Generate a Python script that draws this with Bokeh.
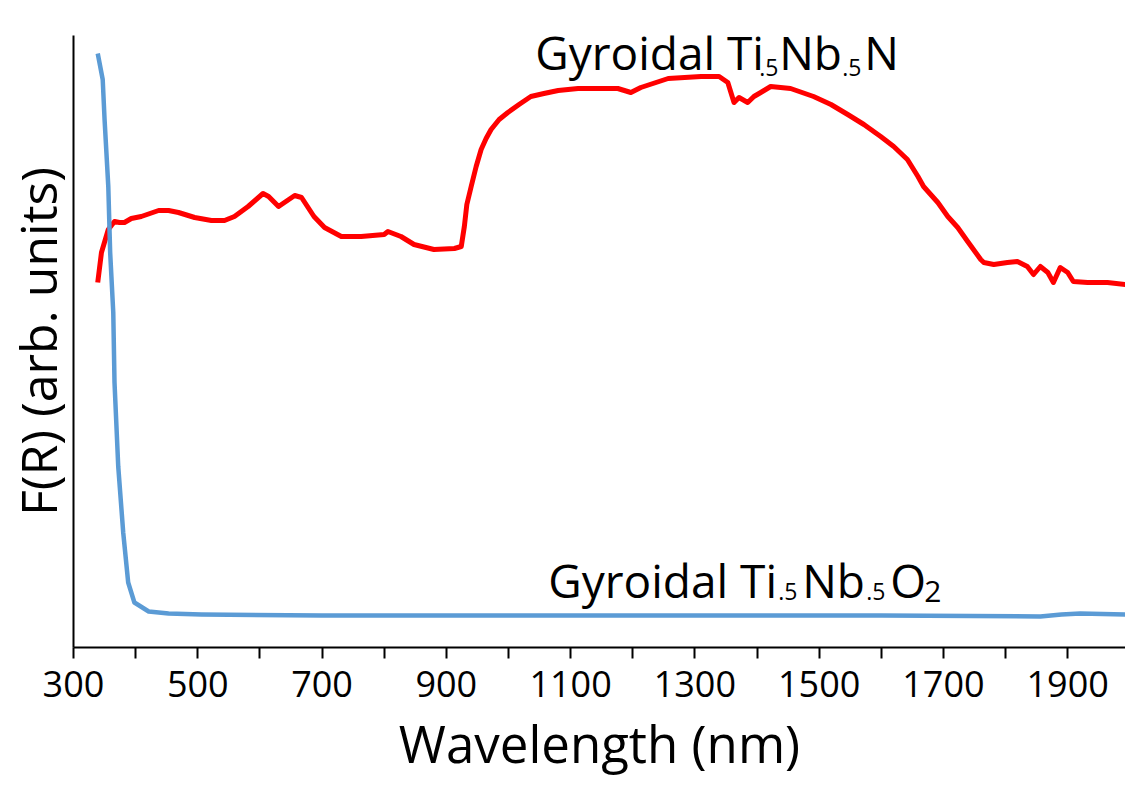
from bokeh.plotting import figure
from bokeh.models import Range1d, FixedTicker, Label
from bokeh.embed import file_html
from bokeh.resources import INLINE

# ---------------- data ----------------
red_wavelength = [339, 345, 356, 366, 374, 382, 393, 409, 437, 453, 469, 495, 522,
                  543, 559, 581, 605, 614, 630, 656, 667, 687, 704, 731, 763, 800,
                  806, 827, 848, 880, 913, 924, 929, 933, 940, 948, 956, 964, 972,
                  985, 999, 1017, 1036, 1057, 1080, 1112, 1150, 1176, 1197, 1213,
                  1257, 1310, 1339, 1353, 1363, 1371, 1385, 1395, 1406, 1422, 1454,
                  1491, 1519, 1546, 1572, 1599, 1620, 1642, 1659, 1668, 1691, 1707,
                  1723, 1739, 1760, 1765, 1781, 1803, 1819, 1835, 1845, 1856, 1868,
                  1877, 1888, 1900, 1909, 1932, 1964, 1993]
red_fr = [3.65, 3.95, 4.18, 4.26, 4.25, 4.25, 4.29, 4.31, 4.37, 4.37, 4.35, 4.30, 4.27,
          4.27, 4.31, 4.41, 4.54, 4.51, 4.41, 4.52, 4.50, 4.31, 4.20, 4.11, 4.11, 4.13,
          4.16, 4.11, 4.03, 3.98, 3.99, 4.01, 4.21, 4.43, 4.61, 4.81, 4.98, 5.09, 5.18,
          5.28, 5.35, 5.43, 5.51, 5.54, 5.57, 5.59, 5.59, 5.59, 5.55, 5.60,
          5.69, 5.71, 5.71, 5.65, 5.45, 5.50, 5.45, 5.51, 5.55, 5.61, 5.59,
          5.51, 5.43, 5.33, 5.23, 5.11, 5.01, 4.88, 4.71, 4.61, 4.45, 4.31,
          4.20, 4.06, 3.88, 3.85, 3.83, 3.85, 3.86, 3.81, 3.73, 3.81, 3.75,
          3.65, 3.80, 3.75, 3.66, 3.65, 3.65, 3.63]

blue_wavelength = [339, 347, 350, 356, 359, 364, 366, 372, 380, 388, 398, 421, 453,
                   506, 700, 1000, 1300, 1600, 1856, 1890, 1920, 1993]
blue_fr = [5.94, 5.68, 5.28, 4.61, 3.95, 3.35, 2.65, 1.81, 1.15, 0.65, 0.45, 0.36, 0.34,
           0.33, 0.32, 0.32, 0.32, 0.32, 0.31, 0.33, 0.34, 0.33]

tick_values = [300, 400, 500, 600, 700, 800, 900, 1000, 1100, 1200, 1300, 1400,
               1500, 1600, 1700, 1800, 1900]
tick_labels = ["300", "", "500", "", "700", "", "900", "", "1100", "", "1300", "",
               "1500", "", "1700", "", "1900"]

x_title = "Wavelength (nm)"
y_title = "F(R) (arb. units)"

# label pieces: (text, x offset px, is_subscript, font size)
nitride_parts = [("Gyroidal Ti", 0, False, "46px"), (".5", 224, True, "23px"),
                 ("Nb", 244, False, "46px"), (".5", 307, True, "23px"),
                 ("N", 329, False, "46px")]
oxide_parts = [("Gyroidal Ti", 0, False, "46px"), (".5", 230, True, "23px"),
               ("Nb", 254, False, "46px"), (".5", 318, True, "23px"),
               ("O", 342, False, "46px"), ("2", 376, True, "30px")]

FONT = "Open Sans"

p = figure(width=1125, height=794, output_backend="svg", toolbar_location=None,
           x_range=Range1d(300, 1993), y_range=Range1d(0, 6.12),
           min_border_left=72, min_border_right=0, min_border_top=35,
           min_border_bottom=147)
p.xgrid.visible = False
p.ygrid.visible = False
p.outline_line_color = None
p.background_fill_color = "white"
p.border_fill_color = "white"

p.line(red_wavelength, red_fr, line_color="#FF0000", line_width=5, line_join="round")
p.line(blue_wavelength, blue_fr, line_color="#5B9BD5", line_width=4.5, line_join="round")

xa = p.xaxis[0]
xa.ticker = FixedTicker(ticks=tick_values, minor_ticks=[])
xa.major_label_overrides = {v: l for v, l in zip(tick_values, tick_labels)}
xa.axis_line_width = 2
xa.axis_line_color = "black"
xa.major_tick_in = 0
xa.major_tick_out = 11
xa.major_tick_line_width = 2
xa.major_tick_line_color = "black"
xa.minor_tick_line_color = None
xa.major_label_text_font = FONT
xa.major_label_text_font_size = "36px"
xa.major_label_text_color = "black"
xa.major_label_standoff = 12
xa.axis_label = x_title
xa.axis_label_text_font = FONT
xa.axis_label_text_font_size = "51px"
xa.axis_label_text_font_style = "normal"
xa.axis_label_text_color = "black"
xa.axis_label_standoff = 8

ya = p.yaxis[0]
ya.ticker = FixedTicker(ticks=[], minor_ticks=[])
ya.axis_line_width = 2
ya.axis_line_color = "black"
ya.major_tick_in = 0
ya.major_tick_out = 0
ya.major_label_standoff = 0
ya.major_tick_line_color = None
ya.minor_tick_line_color = None
ya.axis_label = y_title
ya.axis_label_text_font = FONT
ya.axis_label_text_font_size = "50px"
ya.axis_label_text_font_style = "normal"
ya.axis_label_text_color = "black"
ya.axis_label_standoff = 2

def add_parts(parts, x0, y_main, y_sub):
    for txt, off, sub, size in parts:
        p.add_layout(Label(x=x0, y=y_sub if sub else y_main, x_offset=off, text=txt,
                           text_align="left", text_baseline="alphabetic",
                           text_font=FONT, text_font_size=size, text_color="black"))

add_parts(nitride_parts, 1043, 5.96, 5.80)
add_parts(oxide_parts, 1064, 0.68, 0.56)

open("out.html", "w").write(file_html(p, INLINE))
